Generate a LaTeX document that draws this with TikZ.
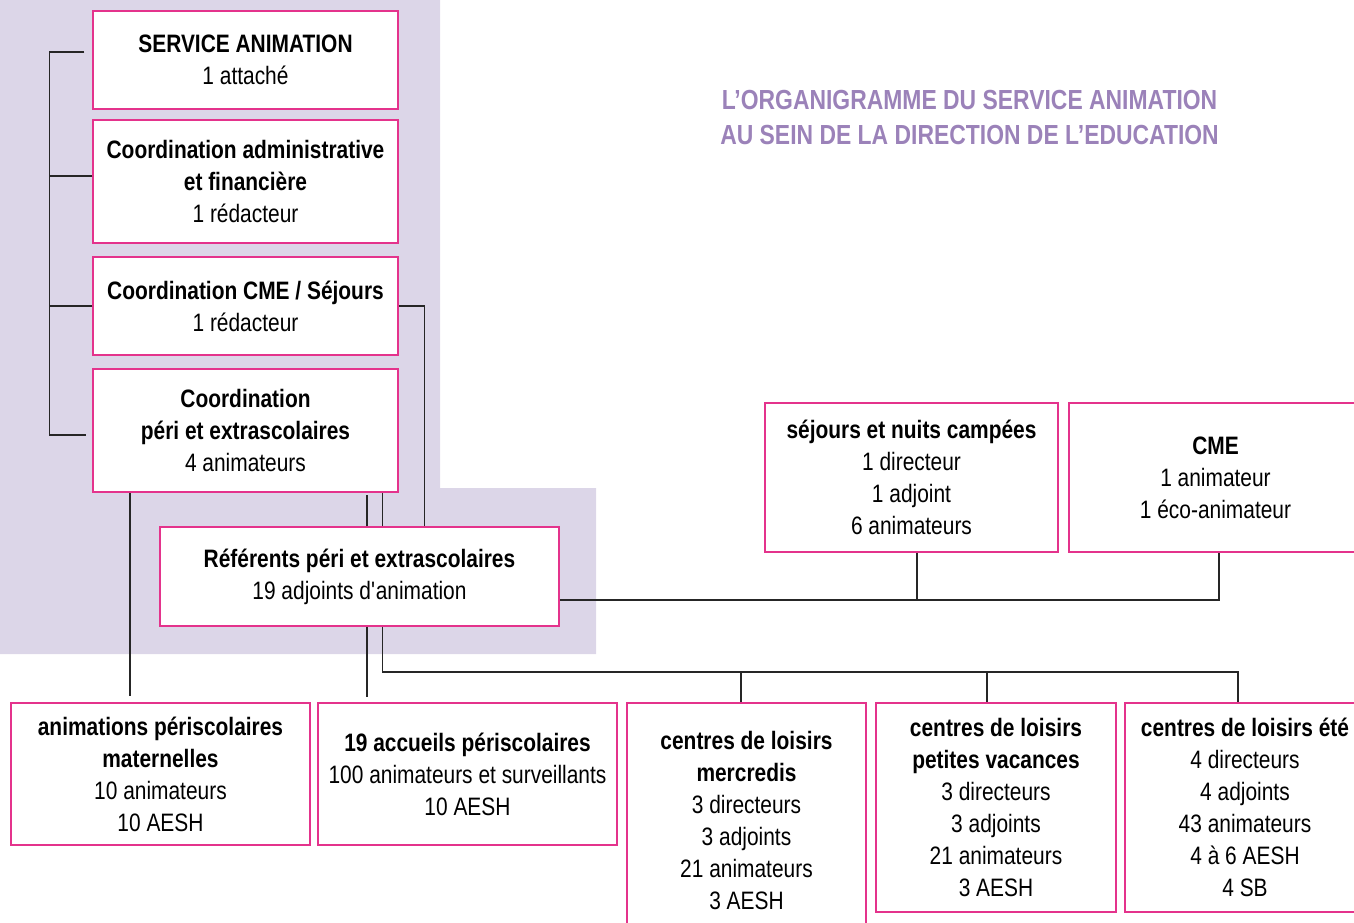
\documentclass[tikz,border=0pt]{standalone}
\usepackage{fontspec}
\setmainfont{Liberation Sans}[FakeStretch=0.83]
\definecolor{boxpink}{HTML}{E4338C}
\definecolor{bglav}{HTML}{DCD6E8}
\definecolor{titlepurple}{HTML}{9B82B9}
\tikzset{
  unit/.style={draw=boxpink, line width=1.5pt, fill=white, align=center,
    inner sep=0pt, font=\fontsize{25.2}{32}\selectfont},
  link/.style={draw=black!85, line width=1.3pt},
}
\begin{document}
\begin{tikzpicture}[x=1pt, y=-1pt]
    % canvas
    \useasboundingbox (0,0) rectangle (1354,923);
    \clip (0,0) rectangle (1354,923);
    % background of the service
    \fill [bglav] (0,0) -- (440,0) -- (440,488) -- (596,488) -- (596,654) -- (0,654) -- cycle;
    % title
    \node (title) [text=titlepurple, align=center, font=\bfseries\fontsize{27.6}{35}\selectfont]
        at (969.5,117.5) {L’ORGANIGRAMME DU SERVICE ANIMATION\\AU SEIN DE LA DIRECTION DE L’EDUCATION};
    % service column
    \node (service) [unit, minimum width=305pt, minimum height=98pt] at (245.5,60)
        {{\bfseries SERVICE ANIMATION}\\1 attaché};
    \node (admin) [unit, minimum width=305pt, minimum height=123pt] at (245.5,181.5)
        {{\bfseries Coordination administrative}\\{\bfseries et financière}\\1 rédacteur};
    \node (cmesej) [unit, minimum width=305pt, minimum height=98pt] at (245.5,306)
        {{\bfseries Coordination CME / Séjours}\\1 rédacteur};
    \node (peri) [unit, minimum width=305pt, minimum height=123pt] at (245.5,430.5)
        {{\bfseries Coordination}\\{\bfseries péri et extrascolaires}\\4 animateurs};
    \node (referents) [unit, minimum width=399pt, minimum height=99pt] at (359.5,576.5)
        {{\bfseries Référents péri et extrascolaires}\\19 adjoints d\textquotesingle animation};
    % séjours and CME
    \node (sejours) [unit, minimum width=293pt, minimum height=149pt] at (911.5,477.5)
        {{\bfseries séjours et nuits campées}\\1 directeur\\1 adjoint\\6 animateurs};
    \node (cme) [unit, minimum width=293pt, minimum height=149pt] at (1215.5,477.5)
        {{\bfseries CME}\\1 animateur\\1 éco-animateur};
    % bottom row
    \node (matern) [unit, minimum width=299pt, minimum height=142pt] at (160.5,774)
        {{\bfseries animations périscolaires}\\{\bfseries maternelles}\\10 animateurs\\10 AESH};
    \node (accueils) [unit, minimum width=299pt, minimum height=142pt] at (467.5,774)
        {{\bfseries 19 accueils périscolaires}\\100 animateurs et surveillants\\10 AESH};
    \node (mercredis) [unit, minimum width=239pt, minimum height=234pt] at (746.5,820)
        {{\bfseries centres de loisirs}\\{\bfseries mercredis}\\3 directeurs\\3 adjoints\\21 animateurs\\3 AESH};
    \node (petites) [unit, minimum width=240pt, minimum height=209pt] at (996,807.5)
        {{\bfseries centres de loisirs}\\{\bfseries petites vacances}\\3 directeurs\\3 adjoints\\21 animateurs\\3 AESH};
    \node (ete) [unit, minimum width=240pt, minimum height=209pt] at (1245,807.5)
        {{\bfseries centres de loisirs été}\\4 directeurs\\4 adjoints\\43 animateurs\\4 à 6 AESH\\4 SB};
    % connector ends
    \coordinate (refA) at ([xshift=7.5pt]referents.south);
    \coordinate (refB) at ([xshift=23pt]referents.south);
    \coordinate (refC) at ([yshift=-23.5pt]referents.east);
    \coordinate (matIn) at ([xshift=-30.5pt]matern.north);
    \coordinate (mercIn) at ([xshift=-5.5pt]mercredis.north);
    \coordinate (petIn) at ([xshift=-9pt]petites.north);
    \coordinate (eteIn) at ([xshift=-7pt]ete.north);
    \coordinate (sejIn) at ([xshift=5.5pt]sejours.south);
    \coordinate (cmeIn) at ([xshift=3.5pt]cme.south);
    \coordinate (bus) at (0,672);
    % left bracket
    \draw [link] ([xshift=-8pt,yshift=8pt]service.west) -- ++(-35,0) |- ([xshift=-6pt,yshift=-4.5pt]peri.west);
    \draw [link] ([yshift=5.5pt]admin.west) -- ++(-42,0);
    \draw [link] (cmesej.west) -- ++(-42,0);
    % coordinations to référents
    \draw [link] (cmesej.east) -| ([xshift=65pt]referents.north);
    \draw [link] ([xshift=7.5pt]referents.north) -- ++(0,-31);
    \draw [link] ([xshift=23pt]referents.north) -- ++(0,-33);
    % down to the bottom row
    \draw [link, shorten >=6pt] (matIn |- peri.south) -- (matIn);
    \draw [link, shorten >=5pt] (refA) -- (refA |- accueils.north);
    \draw [link] (refB) |- (eteIn |- bus) -- (eteIn);
    \draw [link] (mercIn |- bus) -- (mercIn);
    \draw [link] (petIn |- bus) -- (petIn);
    % référents to séjours and CME
    \draw [link] (refC) -| (cmeIn);
    \draw [link] (sejIn) -- (sejIn |- refC);
\end{tikzpicture}
\end{document}
